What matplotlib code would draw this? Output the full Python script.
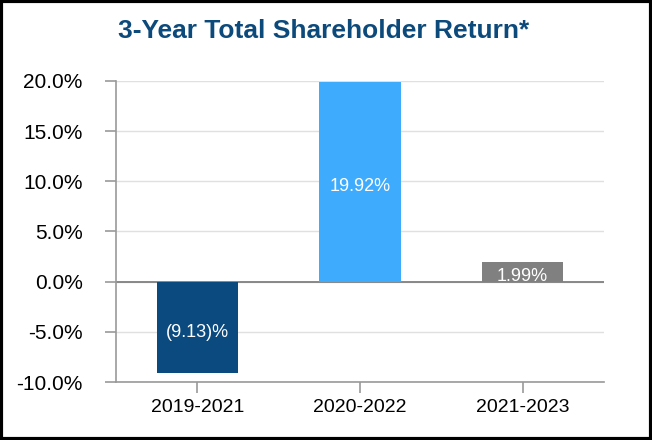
import matplotlib
matplotlib.use("Agg")
import matplotlib.pyplot as plt
from matplotlib.patches import Rectangle

categories = ["2019-2021", "2020-2022", "2021-2023"]
values = [-9.13, 19.92, 1.99]
labels = ["(9.13)%", "19.92%", "1.99%"]
colors = ["#0b4a7e", "#3eabfd", "#808080"]
yticks = [-10, -5, 0, 5, 10, 15, 20]
title = "3-Year Total Shareholder Return*"

plt.rcParams['font.family'] = ['Liberation Sans', 'DejaVu Sans']

fig = plt.figure(figsize=(6.52, 4.40), dpi=100)
ax = fig.add_axes([116/652, 1 - 382/440, (604-116)/652, (382-81)/440])

x = list(range(len(categories)))
bars = ax.bar(x, values, width=0.5, color=colors, zorder=3)
for xi, v, lab in zip(x, values, labels):
    ax.annotate(lab, (xi, v/2), xytext=(0, -3.5), textcoords='offset points',
                ha='center', va='center', color='white', fontsize=13, zorder=4)

ax.set_xlim(-0.5, 2.5)
ax.set_ylim(-10, 20)
ax.set_yticks(yticks)
ax.set_yticklabels([f"{t:.1f}%" for t in yticks], fontsize=15)
ax.set_xticks(x)
ax.set_xticklabels(categories, fontsize=14)
ax.yaxis.grid(True, color='#e0e0e0', linewidth=1, zorder=0)
ax.axhline(0, color='#808080', linewidth=1.3, zorder=2)
for s in ['top', 'right']:
    ax.spines[s].set_visible(False)
for s in ['left', 'bottom']:
    ax.spines[s].set_color('#999999')
    ax.spines[s].set_linewidth(1.2)
ax.tick_params(axis='both', length=8, color='#999999', width=1.2, labelcolor='black')
ax.tick_params(axis='x', pad=4)
ax.tick_params(axis='y', pad=16)

fig.text(324/652, 1 - 31/440, title, ha='center', va='center', fontsize=19,
         fontweight='bold', color='#0d4a7c')

fig.patches.append(Rectangle((0.002, 0.003), 0.996, 0.994, transform=fig.transFigure,
                             fill=False, edgecolor='black', linewidth=3))

fig.savefig("out.png", dpi=100)
